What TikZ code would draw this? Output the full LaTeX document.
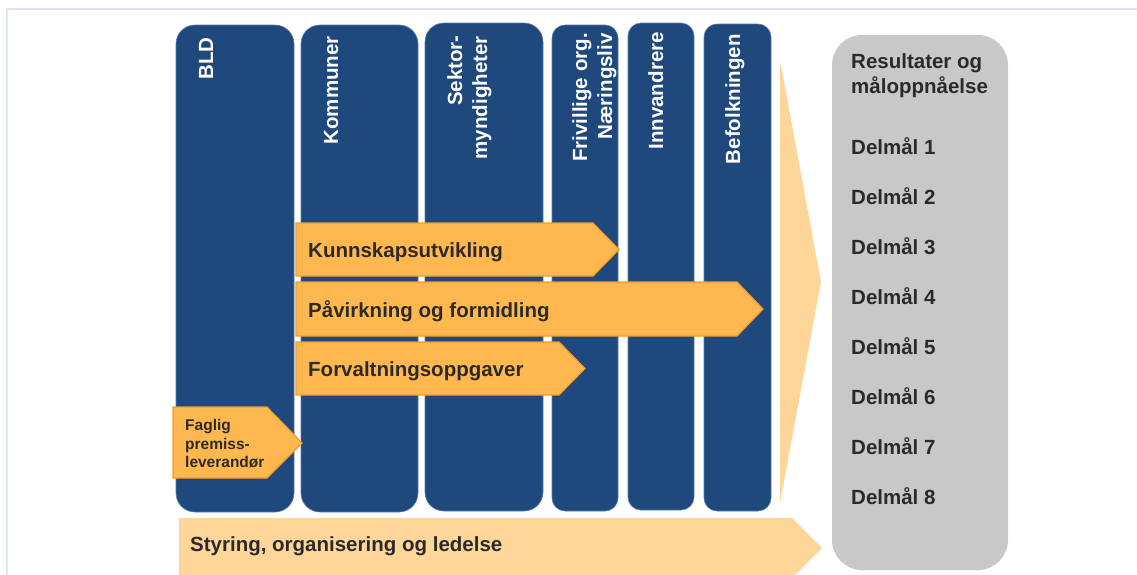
\documentclass[tikz,border=0pt]{standalone}
\usepackage{fontspec}
\setmainfont{Liberation Sans}
\definecolor{navy}{HTML}{1F497D}
\definecolor{navyedge}{HTML}{5A7AA6}
\definecolor{orangefill}{HTML}{FFB84F}
\definecolor{orangeedge}{HTML}{F59B25}
\definecolor{lightorange}{HTML}{FFD699}
\definecolor{greybox}{HTML}{C8C8C8}
\definecolor{darktext}{HTML}{2A2A2A}
\definecolor{framec}{HTML}{DCE6F2}
\tikzset{
  colbig/.style={fill=navy, draw=navyedge, line width=0.6pt, rounded corners=19pt},
  colsmall/.style={fill=navy, draw=navyedge, line width=0.6pt, rounded corners=13pt},
  chev/.style={fill=orangefill, draw=orangeedge, line width=1.2pt, line join=miter},
  lightchev/.style={fill=lightorange},
  collbl/.style={rotate=90, anchor=base east, inner sep=0pt, text=white,
    font=\bfseries\fontsize{20.5}{24}\selectfont},
  chevlbl/.style={anchor=base west, inner sep=0pt, text=darktext,
    font=\bfseries\fontsize{20.5}{24}\selectfont},
  smalllbl/.style={anchor=base west, inner sep=0pt, text=darktext,
    font=\bfseries\fontsize{15.5}{18.5}\selectfont},
}
\begin{document}
\begin{tikzpicture}[x=1pt,y=-1pt]
\useasboundingbox (0,0) rectangle (1137,574);
% frame
\draw[framec, line width=2pt] (7,600) -- (7,9) -- (1150,9);
% columns
\path[colbig] (176,25) rectangle (294,512);
\path[colbig] (301,25) rectangle (418,512);
\path[colbig] (425,23) rectangle (543,511);
\path[colsmall] (552,25) rectangle (618,511);
\path[colsmall] (628,23) rectangle (694,510);
\path[colsmall] (704,24) rectangle (771,511);
% column labels
\node[collbl] (bld) at (213,37) {BLD};
\node[collbl] (kom) at (338,36) {Kommuner};
\node[collbl] (sek1) at (462,35) {Sektor-};
\node[collbl] (sek2) at (487,36) {myndigheter};
\node[collbl] (fri1) at (587,33) {Frivillige org.};
\node[collbl] (fri2) at (612,33) {Næringsliv};
\node[collbl] (inn) at (663,32) {Innvandrere};
\node[collbl] (bef) at (740,34) {Befolkningen};
% big light triangle
\path[lightchev] (780,60) -- (821,282) -- (780,503) -- cycle;
% grey results box
\path[fill=greybox, rounded corners=30pt] (832,35) rectangle (1008,570);
\node[chevlbl] (res1) at (851,68) {Resultater og};
\node[chevlbl] (res2) at (851,93) {måloppnåelse};
\foreach \i in {1,...,8} {
  \node[chevlbl] (d\i) at (851,{154+50*(\i-1)}) {Delmål \i};
}
% orange chevrons
\path[chev] (296,223) -- (593,223) -- (619,249.5) -- (593,276) -- (296,276) -- cycle;
\node[chevlbl] (kunn) at (308,257.5) {Kunnskapsutvikling};
\path[chev] (296,282) -- (737,282) -- (763,309) -- (737,336) -- (296,336) -- cycle;
\node[chevlbl] (pav) at (308,317) {Påvirkning og formidling};
\path[chev] (296,342) -- (559,342) -- (585,368.5) -- (559,395) -- (296,395) -- cycle;
\node[chevlbl] (forv) at (308,376) {Forvaltningsoppgaver};
\path[chev] (173,407) -- (267,407) -- (302,443) -- (267,478) -- (173,478) -- cycle;
\node[smalllbl] (fag1) at (185,430) {Faglig};
\node[smalllbl] (fag2) at (185,449) {premiss-};
\node[smalllbl] (fag3) at (185,467.5) {leverandør};
% bottom chevron
\path[lightchev] (179,518) -- (792,518) -- (822,548) -- (792,578) -- (179,578) -- cycle;
\node[chevlbl] (sty) at (190,551) {Styring, organisering og ledelse};
\end{tikzpicture}
\end{document}
